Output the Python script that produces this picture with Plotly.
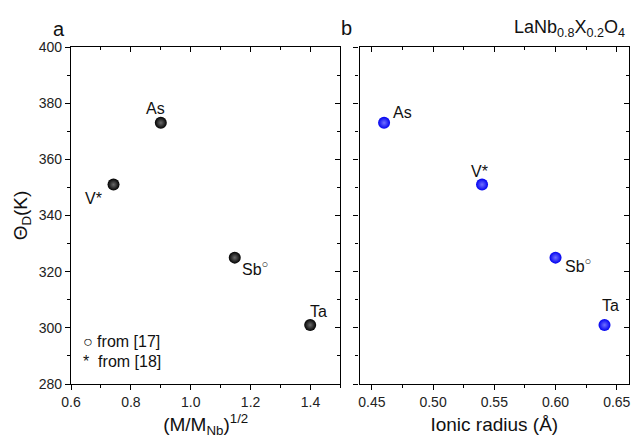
import plotly.graph_objects as go

# ---- data ----
labels = ["As", "V*", "Sb<sup>○</sup>", "Ta"]
mass_ratio_sqrt = [0.90, 0.742, 1.147, 1.399]       # (M/M_Nb)^1/2
ionic_radius = [0.46, 0.54, 0.60, 0.64]             # Å
theta_d = [373, 351, 325, 301]                      # K

# label offsets (pixels) per point, panel a and panel b
off_a = [(-5, 14), (-20, -14), (20, -10), (8, 14)]
off_b = [(18, 10), (-3, 13), (22, -7), (6, 20)]

FONT = "Liberation Sans, Arial, sans-serif"

fig = go.Figure()

fig.add_trace(go.Scatter(
    x=mass_ratio_sqrt, y=theta_d, mode="markers", xaxis="x", yaxis="y",
    marker=dict(size=12, color="#000000",
                gradient=dict(type="radial", color="#6a6a6a"),
                line=dict(width=0)),
    hoverinfo="skip", showlegend=False))

fig.add_trace(go.Scatter(
    x=ionic_radius, y=theta_d, mode="markers", xaxis="x2", yaxis="y2",
    marker=dict(size=12, color="#0000f0",
                gradient=dict(type="radial", color="#7070ff"),
                line=dict(width=0)),
    hoverinfo="skip", showlegend=False))

# invisible traces for the mirrored (inside-tick) axes
fig.add_trace(go.Scatter(x=mass_ratio_sqrt, y=theta_d, xaxis="x3", yaxis="y3",
                         mode="markers", marker=dict(opacity=0),
                         hoverinfo="skip", showlegend=False))
fig.add_trace(go.Scatter(x=ionic_radius, y=theta_d, xaxis="x4", yaxis="y4",
                         mode="markers", marker=dict(opacity=0),
                         hoverinfo="skip", showlegend=False))

dom_a = [0.0, 0.4828]
dom_b = [0.5172, 1.0]
xr_a = [0.6, 1.5]
xr_b = [0.44, 0.66]
yr = [280, 400]

tickfont = dict(family=FONT, size=14, color="#222222")
titlefont = dict(family=FONT, size=19, color="#111111")

common_out = dict(showline=True, linecolor="black", linewidth=1.3,
                  ticks="outside", ticklen=5, tickwidth=1.3, tickcolor="black",
                  showgrid=False, zeroline=False, tickfont=tickfont)
common_in = dict(showline=True, linecolor="black", linewidth=1.3,
                 ticks="inside", ticklen=5, tickwidth=1.3, tickcolor="black",
                 showgrid=False, zeroline=False, showticklabels=False)

fig.update_layout(
    width=635, height=445,
    margin=dict(l=71, r=4, t=47, b=61),
    paper_bgcolor="white", plot_bgcolor="white",
    font=dict(family=FONT),
    xaxis=dict(domain=dom_a, range=xr_a, anchor="y", dtick=0.2, tick0=0.6,
               tickformat=".1f",
               minor=dict(dtick=0.1, ticks="outside", ticklen=3, tickwidth=1.3, tickcolor="black"),
               title=dict(text="(M/M<sub>Nb</sub>)<sup>1/2</sup>", font=titlefont, standoff=8),
               **common_out),
    yaxis=dict(domain=[0, 1], range=yr, anchor="x", dtick=20,
               minor=dict(dtick=10, ticks="outside", ticklen=3, tickwidth=1.3, tickcolor="black"),
               title=dict(text="Θ<sub>D</sub>(K)", font=titlefont, standoff=6),
               **common_out),
    xaxis2=dict(domain=dom_b, range=xr_b, anchor="y2", dtick=0.05, tick0=0.45,
                tickformat=".2f",
                minor=dict(dtick=0.025, ticks="outside", ticklen=3, tickwidth=1.3, tickcolor="black"),
                title=dict(text="Ionic radius (Å)", font=titlefont, standoff=8),
                **common_out),
    yaxis2=dict(domain=[0, 1], range=yr, anchor="x2", dtick=20, showticklabels=False,
                minor=dict(dtick=10, ticks="outside", ticklen=3, tickwidth=1.3, tickcolor="black"),
                **common_out),
    xaxis3=dict(overlaying="x", side="top", range=xr_a, anchor="y3", dtick=0.2, tick0=0.6,
                minor=dict(dtick=0.1, ticks="inside", ticklen=3, tickwidth=1.3, tickcolor="black"),
                **common_in),
    yaxis3=dict(overlaying="y", side="right", range=yr, anchor="x3", dtick=20,
                minor=dict(dtick=10, ticks="inside", ticklen=3, tickwidth=1.3, tickcolor="black"),
                **common_in),
    xaxis4=dict(overlaying="x2", side="top", range=xr_b, anchor="y4", dtick=0.05, tick0=0.45,
                minor=dict(dtick=0.025, ticks="inside", ticklen=3, tickwidth=1.3, tickcolor="black"),
                **common_in),
    yaxis4=dict(overlaying="y2", side="right", range=yr, anchor="x4", dtick=20,
                minor=dict(dtick=10, ticks="inside", ticklen=3, tickwidth=1.3, tickcolor="black"),
                **common_in),
)

labfont = dict(family=FONT, size=16, color="#111111")
for lab, xv, yv, (dx, dy) in zip(labels, mass_ratio_sqrt, theta_d, off_a):
    fig.add_annotation(x=xv, y=yv, xref="x", yref="y", text=lab, showarrow=False,
                       xanchor="center", yanchor="middle",
                       xshift=dx, yshift=dy, font=labfont)
for lab, xv, yv, (dx, dy) in zip(labels, ionic_radius, theta_d, off_b):
    fig.add_annotation(x=xv, y=yv, xref="x2", yref="y2", text=lab, showarrow=False,
                       xanchor="center", yanchor="middle",
                       xshift=dx, yshift=dy, font=labfont)

# panel letters and compound formula
fig.add_annotation(x=-0.021, y=1.053, xref="paper", yref="paper", text="a",
                   xanchor="center", yanchor="middle",
                   showarrow=False, font=dict(family=FONT, size=20, color="#111111"))
fig.add_annotation(x=0.494, y=1.056, xref="paper", yref="paper", text="b",
                   xanchor="center", yanchor="middle",
                   showarrow=False, font=dict(family=FONT, size=20, color="#111111"))
fig.add_annotation(x=0.997, y=1.056, xref="paper", yref="paper", xanchor="right",
                   yanchor="middle",
                   text="LaNb<sub>0.8</sub>X<sub>0.2</sub>O<sub>4</sub>",
                   showarrow=False, font=dict(family=FONT, size=18, color="#111111"))

# notes (legend text)
fig.add_annotation(x=0.018, y=0.125, xref="paper", yref="paper", xanchor="left",
                   yanchor="middle",
                   text="○ from [17]", showarrow=False, font=labfont)
fig.add_annotation(x=0.018, y=0.066, xref="paper", yref="paper", xanchor="left",
                   yanchor="middle",
                   text="*  from [18]", showarrow=False, font=labfont)

fig.write_html("out.html", config={"displayModeBar": False},
               post_script="document.body.style.margin='0';document.body.style.padding='0';document.body.style.overflow='hidden';")
